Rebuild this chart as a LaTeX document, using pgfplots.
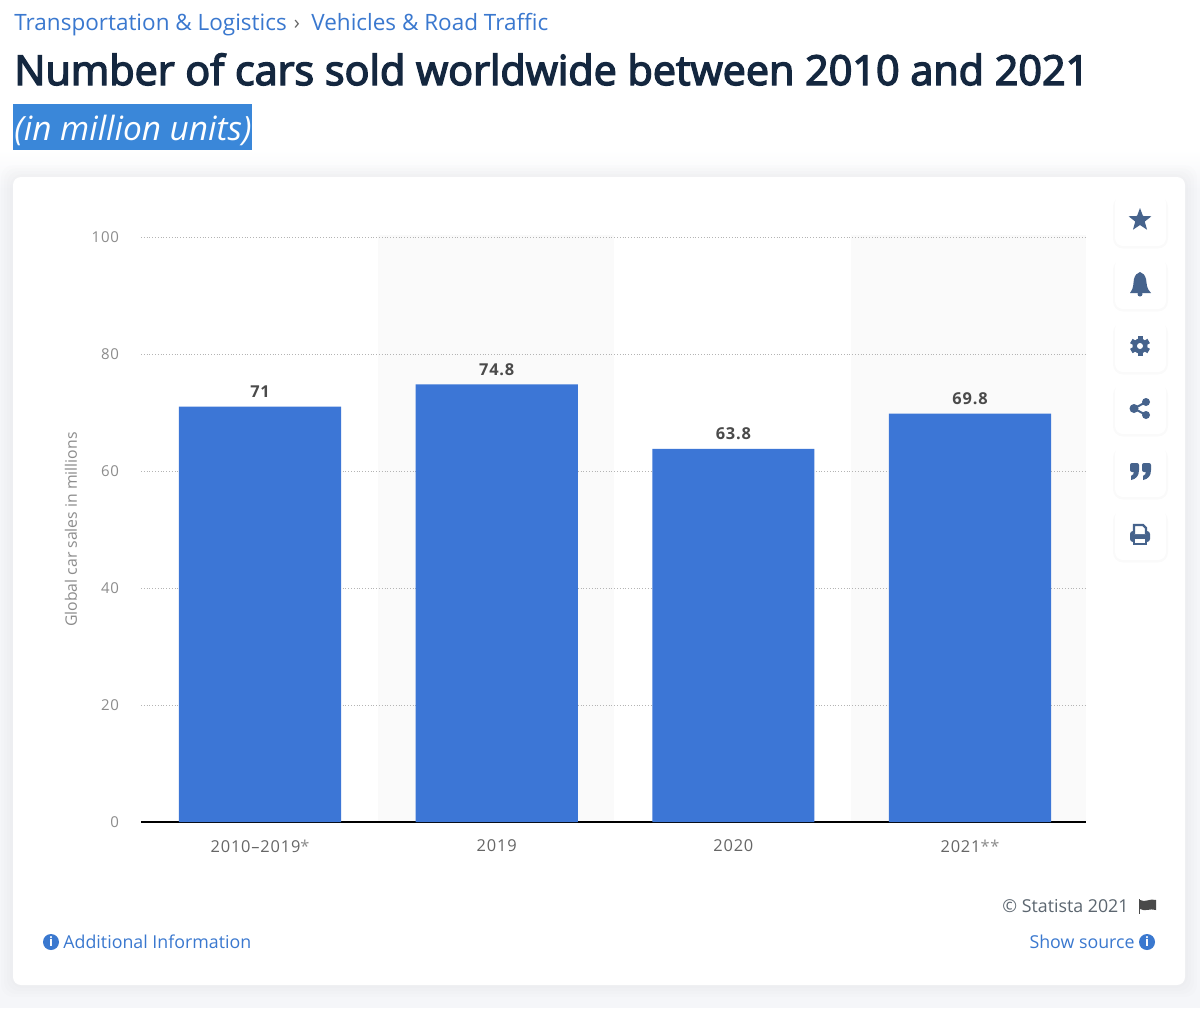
\documentclass[border=0pt]{standalone}
\usepackage{fontspec}
\setmainfont{Open Sans}
\newfontfamily\chartfont[LetterSpace=5]{Open Sans}
\newfontfamily\titlefont[FakeBold=3.5]{Open Sans}
\usepackage{pgfplots}
\pgfplotsset{compat=1.18}
\usetikzlibrary{shapes.geometric}
\definecolor{barblue}{HTML}{3C76D6}
\definecolor{linkblue}{HTML}{3A78CF}
\definecolor{titlenavy}{HTML}{14273F}
\definecolor{hiblue}{HTML}{3A87D9}
\definecolor{iconblue}{HTML}{46638C}
\definecolor{bandgrey}{HTML}{FAFAFA}
\definecolor{pagebg}{HTML}{F5F6F9}
\definecolor{gridgrey}{HTML}{B4B4B4}
\definecolor{ticktext}{HTML}{666666}
\definecolor{ylabtext}{HTML}{8C8C8C}
\definecolor{valtext}{HTML}{4A4A4A}
\definecolor{creditgrey}{HTML}{5C6670}
% the page furniture is laid out in the reference's pixels
\tikzset{px/.style={x=0.5pt,y=-0.5pt}}
% icon cards, args: centre y
\newcommand{\iconcard}[1]{%
  \fill[black,opacity=.02,rounded corners=5pt] (1113,#1-24) rectangle (1168,#1+28);
  \fill[white,rounded corners=4pt] (1115,#1-25.5) rectangle (1166,#1+25.5);}
\newcommand{\infoicon}[2]{%
  \fill[linkblue] (#1,#2) circle (8);
  \node[text=white,font=\bfseries\fontsize{6.5}{6.5}\selectfont,inner sep=0pt] at (#1,#2) {i};}
\begin{document}
\begin{tikzpicture}
\begin{scope}[px]
\path[use as bounding box] (0,0) rectangle (1200,1008);
\fill[white] (0,0) rectangle (1200,1008);
% page shading round the card
\fill[pagebg] (0,190) rectangle (1200,1008);
\shade[top color=white,bottom color=pagebg] (0,150) rectangle (1200,190);
\foreach \g in {12,9,6,3}{
  \fill[black,opacity=.006,rounded corners=6pt] (13-\g,177-\g) rectangle (1185+\g,985+\g);}
\fill[white,rounded corners=4pt] (13,177) rectangle (1185,985);
% header
\node[anchor=base west,inner sep=0pt,text=linkblue,font=\fontsize{11.25}{14}\selectfont] at (14,30) {Transportation \& Logistics};
\node[anchor=base,inner sep=0pt,text=ticktext,font=\fontsize{10}{14}\selectfont] at (297,29) {›};
\node[anchor=base west,inner sep=0pt,text=linkblue,font=\fontsize{11.25}{14}\selectfont] at (311,30) {Vehicles \& Road Traffic};
\node[anchor=base west,inner sep=0pt,text=titlenavy,font=\titlefont\fontsize{20.65}{26}\selectfont] at (14,85) {Number of cars sold worldwide between 2010 and 2021};
\fill[hiblue] (13,104) rectangle (252,150);
\node[anchor=base west,inner sep=0pt,text=white,font=\itshape\fontsize{16.7}{22}\selectfont] at (14,140) {(in million units)};
% alternating bands
\fill[bandgrey] (378,235) rectangle (614,822);
\fill[bandgrey] (851,235) rectangle (1086,822);
\end{scope}
\begin{axis}[
  at={(70.5pt,-411pt)}, anchor=south west,
  scale only axis,
  width=472.5pt, height=292.5pt,
  xmin=-0.503, xmax=3.490, ymin=0, ymax=100,
  ybar, bar width=0.685,
  xtick=data,
  xticklabels={2010–2019{\color{ylabtext}*},2019,2020,2021{\color{ylabtext}**}},
  ytick={0,20,40,60,80,100},
  axis x line*=bottom, axis y line*=left,
  y axis line style={draw=none},
  x axis line style={black,line width=0.6pt},
  tick style={draw=none},
  ymajorgrids,
  grid style={gridgrey,densely dotted,line width=0.4pt},
  /pgf/number format/assume math mode=true,
  xticklabel style={font=\chartfont\fontsize{8.2}{9}\selectfont,text=ticktext,yshift=-1pt},
  yticklabel style={font=\chartfont\fontsize{7.5}{9}\selectfont,text=ylabtext,xshift=-7.5pt},
  ylabel={Global car sales in millions},
  every axis y label/.style={at={(axis description cs:-0.074,0.5)},rotate=90,anchor=center},
  ylabel style={font=\fontsize{7.9}{9}\selectfont,text=ylabtext},
  nodes near coords,
  point meta=y,
  nodes near coords style={font=\chartfont\bfseries\fontsize{8.2}{10}\selectfont,text=valtext,yshift=1pt,
    /pgf/number format/.cd,fixed,precision=1,assume math mode=true},
]
\addplot[fill=barblue,draw=none] coordinates {(0,71) (1,74.8) (2,63.8) (3,69.8)};
\end{axis}
\begin{scope}[px]
% side icons
\foreach \c in {220.5,283.5,346.5,408.5,471.5,534.5}{\iconcard{\c}}
\node[star,star points=5,star point ratio=2.4,fill=iconblue,inner sep=0pt,minimum size=12pt] at (1140,220) {};
\fill[iconblue] (1130,293) .. controls (1134,288) and (1133,284) .. (1134,279) .. controls (1135,275) and (1137,273) .. (1140,272)
  .. controls (1143,273) and (1145,275) .. (1146,279) .. controls (1147,284) and (1146,288) .. (1151,293) -- cycle;
\fill[iconblue] (1140,294) circle (2.5);
\fill[iconblue] (1140,346) circle (7.5);
\foreach \a in {0,60,...,300}{\fill[iconblue,rotate around={\a:(1140,346)}] (1137.5,336) rectangle (1142.5,342);}
\fill[white] (1140,346) circle (3);
\draw[iconblue,line width=1pt] (1146,402) -- (1134,408.5) -- (1146,415);
\fill[iconblue] (1146,402) circle (4) (1134,408.5) circle (4.5) (1146,415) circle (4);
\foreach \q in {1130,1142}{
  \fill[iconblue,rounded corners=1pt] (\q,463) rectangle (\q+9,472);
  \fill[iconblue] (\q+9,470) .. controls (\q+9,476) and (\q+6,479) .. (\q+1,480) -- (\q+1,476) .. controls (\q+3,475) and (\q+4,474) .. (\q+4,471) -- cycle;}
\fill[iconblue,rounded corners=1.5pt] (1130,531) rectangle (1150,542);
\draw[iconblue,line width=1.1pt,fill=white] (1134,534) -- (1134,525) -- (1143,525) -- (1146,528) -- (1146,534);
\draw[iconblue,line width=1.1pt,fill=white] (1134,538) rectangle (1146,544);
% footer
\node[anchor=base east,inner sep=0pt,text=creditgrey,font=\fontsize{8.9}{11}\selectfont] at (1129,912) {© Statista 2021};
\draw[valtext,line width=0.5pt] (1139,899) -- (1139,914);
\fill[valtext] (1140,900) .. controls (1145,903) and (1150,898) .. (1156,900) -- (1156,910) .. controls (1150,908) and (1145,912) .. (1140,909) -- cycle;
\infoicon{51}{942}
\node[anchor=base west,inner sep=0pt,text=linkblue,font=\fontsize{8.9}{11}\selectfont] at (63,948) {Additional Information};
\infoicon{1147}{942}
\node[anchor=base east,inner sep=0pt,text=linkblue,font=\fontsize{8.9}{11}\selectfont] at (1135,948) {Show source};
\end{scope}
\end{tikzpicture}
\end{document}
